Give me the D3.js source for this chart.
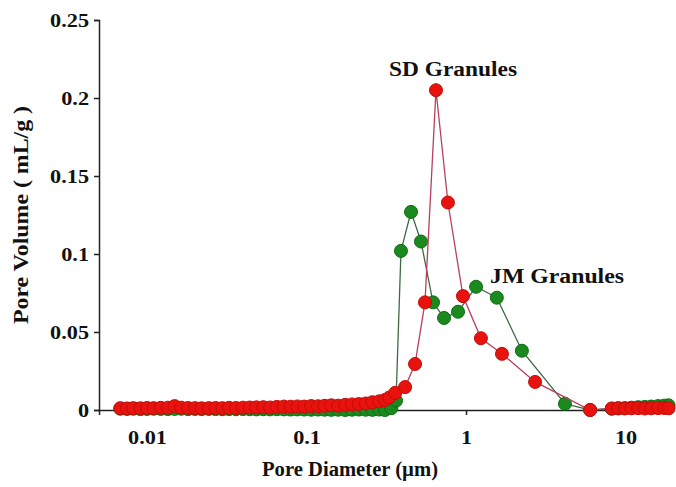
<!DOCTYPE html>
<html>
<head>
<meta charset="utf-8">
<script src="https://cdn.jsdelivr.net/npm/d3@7"></script>
<style>
  body { margin: 0; background: #fff; }
  text { font-family: "Liberation Serif", "Times New Roman", serif; font-weight: bold; fill: #111; }
</style>
</head>
<body>
<svg id="chart"></svg>
<script>
// pore diameter (um) / pore volume (mL/g)
const sdDiameter = [
  0.0068, 0.0075, 0.0082, 0.0091, 0.010, 0.011, 0.0122, 0.0135, 0.0149, 0.0164,
  0.0181, 0.020, 0.022, 0.0244, 0.0269, 0.0297, 0.0327, 0.0361, 0.0399, 0.044,
  0.0485, 0.0536, 0.0591, 0.0652, 0.072, 0.0794, 0.0876, 0.0967, 0.107, 0.118,
  0.130, 0.143, 0.158, 0.175, 0.193, 0.213, 0.235, 0.259, 0.286, 0.31, 0.33,
  0.36, 0.415, 0.479, 0.553, 0.648, 0.77, 0.957, 1.24, 1.68, 2.71, 6.0,
  8.2, 9.0, 9.9, 10.9, 12.0, 13.2, 14.5, 16.0, 17.5, 18.6
];
const sdVolume = [
  0.0012, 0.0010, 0.0012, 0.0011, 0.0013, 0.0012, 0.0014, 0.0015, 0.0025, 0.0015,
  0.0013, 0.0012, 0.0011, 0.0012, 0.0013, 0.0012, 0.0014, 0.0013, 0.0015, 0.0016,
  0.0017, 0.0018, 0.0016, 0.0020, 0.0022, 0.0021, 0.0023, 0.0022, 0.0025, 0.0024,
  0.0027, 0.0030, 0.0028, 0.0033, 0.0036, 0.0038, 0.0042, 0.0050, 0.0056, 0.0064,
  0.0080, 0.0110, 0.0147, 0.0295, 0.069, 0.205, 0.133, 0.073, 0.046, 0.036,
  0.018, 0.0, 0.0010, 0.0012, 0.0010, 0.0011, 0.0012, 0.0010, 0.0011, 0.0012,
  0.0013, 0.0011
];
const jmDiameter = [
  0.0068, 0.0075, 0.0082, 0.0091, 0.010, 0.011, 0.0122, 0.0135, 0.0149, 0.0164,
  0.0181, 0.020, 0.022, 0.0244, 0.0269, 0.0297, 0.0327, 0.0361, 0.0399, 0.044,
  0.0485, 0.0536, 0.0591, 0.0652, 0.072, 0.0794, 0.0876, 0.0967, 0.107, 0.118,
  0.130, 0.143, 0.158, 0.175, 0.193, 0.213, 0.235, 0.259, 0.286, 0.31, 0.34,
  0.364, 0.391, 0.452, 0.522, 0.621, 0.728, 0.891, 1.156, 1.56, 2.24, 4.17, 6.0,
  8.2, 9.0, 9.9, 10.9, 12.0, 13.2, 14.5, 16.0, 17.5, 18.6
];
const jmVolume = [
  0.0008, 0.0007, 0.0008, 0.0006, 0.0007, 0.0008, 0.0007, 0.0006, 0.0007, 0.0008,
  0.0006, 0.0007, 0.0006, 0.0007, 0.0006, 0.0005, 0.0006, 0.0005, 0.0006, 0.0005,
  0.0004, 0.0005, 0.0004, 0.0005, 0.0004, 0.0003, 0.0004, 0.0003, 0.0002, 0.0003,
  0.0002, 0.0001, 0.0002, 0.0, 0.0002, 0.0003, 0.0002, 0.0001, 0.0003, 0.0, 0.0012,
  0.0060, 0.102, 0.127, 0.108, 0.069, 0.059, 0.063, 0.079, 0.072, 0.038, 0.004, 0.0,
  0.0008, 0.0010, 0.0012, 0.0015, 0.0018, 0.0020, 0.0022, 0.0025, 0.0028, 0.0030
];

const xTicks = [0.01, 0.1, 1, 10];
const xTickLabels = ["0.01", "0.1", "1", "10"];
const yTicks = [0, 0.05, 0.1, 0.15, 0.2, 0.25];
const yTickLabels = ["0", "0.05", "0.1", "0.15", "0.2", "0.25"];

const width = 676, height = 487;
const svg = d3.select("#chart").attr("width", width).attr("height", height);

const x = d3.scaleLog().domain([0.005, 19]).range([99, 670]);
const y = d3.scaleLinear().domain([0, 0.25]).range([410, 20]);

// the original lettering is a bit wider than Liberation Serif
function widen(sel, k) {
    sel.each(function () {
        const w = this.getComputedTextLength();
        d3.select(this).attr("textLength", w * k).attr("lengthAdjust", "spacingAndGlyphs");
    });
}

// axes
const xAxis = svg.append("g")
    .attr("transform", `translate(0,${y(0)})`)
    .call(d3.axisBottom(x).tickValues(xTicks).tickSize(5).tickPadding(16)
        .tickFormat((d, i) => xTickLabels[i]));
const yAxis = svg.append("g")
    .attr("transform", `translate(${x.range()[0]},0)`)
    .call(d3.axisLeft(y).tickValues(yTicks).tickSize(5).tickPadding(5)
        .tickFormat((d, i) => yTickLabels[i]));
[xAxis, yAxis].forEach(g => {
    g.selectAll("path, line").attr("stroke", "#222").attr("stroke-width", 1.5);
    g.selectAll("text").style("font-size", "19px").call(widen, 1.17);
});

function series(xs, ys, lineColor, fill, stroke) {
    const pts = xs.map((d, i) => [d, ys[i]]);
    const line = d3.line().x(d => x(d[0])).y(d => y(d[1]));
    svg.append("path")
        .datum(pts)
        .attr("fill", "none")
        .attr("stroke", lineColor)
        .attr("stroke-width", 1.3)
        .attr("d", line);
    svg.append("g").selectAll("circle")
        .data(pts)
        .join("circle")
        .attr("cx", d => x(d[0]))
        .attr("cy", d => y(d[1]))
        .attr("r", 6.5)
        .attr("fill", fill)
        .attr("stroke", stroke)
        .attr("stroke-width", 1);
}

series(jmDiameter, jmVolume, "#3d6b45", "#1a8a1e", "#0f6a12");
series(sdDiameter, sdVolume, "#b8405a", "#e8120e", "#c40c0a");

// labels
function label(x0, y0, txt, len, rotate) {
    return svg.append("text")
        .attr("transform", `translate(${x0},${y0})` + (rotate ? " rotate(-90)" : ""))
        .attr("text-anchor", "middle")
        .attr("textLength", len)
        .attr("lengthAdjust", "spacingAndGlyphs")
        .style("font-size", "20px")
        .text(txt);
}
label(453, 76, "SD Granules", 128);
label(557, 283, "JM Granules", 134);
label(350, 476, "Pore Diameter (\u00b5m)", 176);
label(28, 215, "Pore Volume ( mL/g )", 218, true);
</script>
</body>
</html>
